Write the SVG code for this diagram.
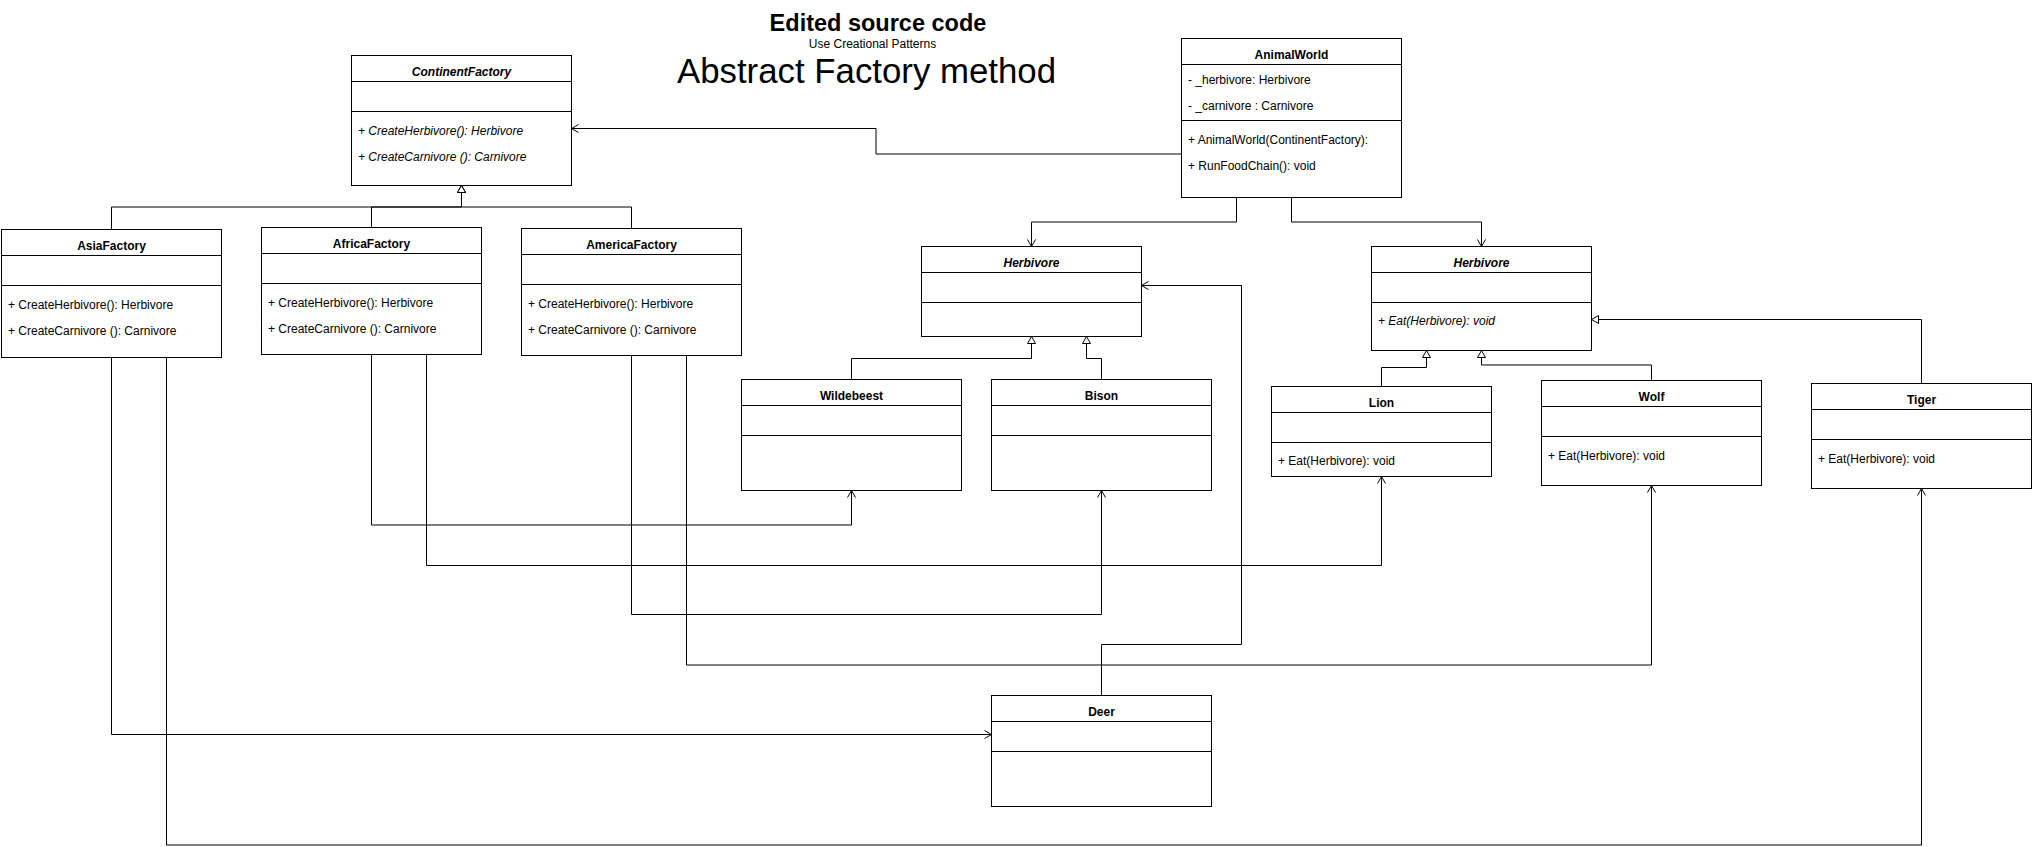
<svg xmlns="http://www.w3.org/2000/svg" width="2033" height="847" viewBox="0 0 2033 847">
<style>
  text { font-family: "Liberation Sans", Arial, Helvetica, sans-serif; font-size: 12px; fill: #000; }
  .box { fill: #fff; stroke: #000; stroke-width: 1; }
  .sep { stroke: #000; stroke-width: 1; }
  .name { font-weight: bold; text-anchor: middle; }
  .abs { font-style: italic; }
  .it { font-style: italic; }
  .conn path { fill: none; stroke: #000; stroke-width: 1; }
  .assoc { marker-end: url(#open); }
  .inh { marker-end: url(#tri); }
</style>
<defs>
  <marker id="open" markerUnits="userSpaceOnUse" markerWidth="10" markerHeight="10" refX="7" refY="4" orient="auto" overflow="visible">
    <path d="M0,0 L7,4 L0,8" fill="none" stroke="#000" stroke-width="1"/>
  </marker>
  <marker id="tri" markerUnits="userSpaceOnUse" markerWidth="10" markerHeight="10" refX="7" refY="4" orient="auto" overflow="visible">
    <path d="M0,0 L7,4 L0,8 Z" fill="#fff" stroke="#000" stroke-width="1"/>
  </marker>
</defs>
<rect width="2033" height="847" fill="#fff"/>

<g id="title">
  <text x="878" y="30.5" text-anchor="middle" style="font-size:23.5px;font-weight:bold">Edited source code</text>
  <text x="872.5" y="48" text-anchor="middle">Use Creational Patterns</text>
  <text x="866.5" y="82.5" text-anchor="middle" style="font-size:34.8px">Abstract Factory method</text>
</g>

<g class="conn" id="connectors">
  <path class="assoc" d="M1181.5,154 H876 V128.5 H571.5"/>
  <path class="assoc" d="M1236.5,197.5 V222 H1031.5 V246.5"/>
  <path class="assoc" d="M1291.5,197.5 V222 H1481.5 V246.5"/>
  <path class="inh" d="M111.5,229.5 V207 H461.5 V185.5"/>
  <path class="inh" d="M371.5,227.5 V207 H461.5 V185.5"/>
  <path class="inh" d="M631.5,228.5 V207 H461.5 V185.5"/>
  <path class="inh" d="M851.5,379.5 V358.5 H1031.5 V336.5"/>
  <path class="inh" d="M1101.5,379.5 V358.5 H1086.5 V336.5"/>
  <path class="inh" d="M1381.5,386.5 V367.5 H1426.5 V350.5"/>
  <path class="inh" d="M1651.5,380.5 V365 H1481.5 V350.5"/>
  <path class="inh" d="M1921.5,383.5 V319.5 H1591.5"/>
  <path class="assoc" d="M111.5,357.5 V734.5 H991.5"/>
  <path class="assoc" d="M166.5,357.5 V845 H1921.5 V488.5"/>
  <path class="assoc" d="M371.5,354.5 V525 H851.5 V490.5"/>
  <path class="assoc" d="M426.5,354.5 V565.5 H1381.5 V476.5"/>
  <path class="assoc" d="M631.5,355.5 V614.5 H1101.5 V490.5"/>
  <path class="assoc" d="M686.5,355.5 V665 H1651.5 V485.5"/>
  <path class="assoc" d="M1101.5,695.5 V644.5 H1241.5 V285.5 H1141.5"/>
</g>

<g id="ContinentFactory">
  <rect class="box" x="351.5" y="55.5" width="220" height="130"/>
  <line class="sep" x1="351.5" y1="81.5" x2="571.5" y2="81.5"/>
  <line class="sep" x1="351.5" y1="111.5" x2="571.5" y2="111.5"/>
  <text class="name abs" x="461.5" y="75.5">ContinentFactory</text>
  <text class="it" x="358" y="134.5">+ CreateHerbivore(): Herbivore</text>
  <text class="it" x="358" y="160.5">+ CreateCarnivore (): Carnivore</text>
</g>

<g id="AnimalWorld">
  <rect class="box" x="1181.5" y="38.5" width="220" height="159"/>
  <line class="sep" x1="1181.5" y1="64.5" x2="1401.5" y2="64.5"/>
  <line class="sep" x1="1181.5" y1="120.5" x2="1401.5" y2="120.5"/>
  <text class="name" x="1291.5" y="58.5">AnimalWorld</text>
  <text x="1188" y="83.5">- _herbivore: Herbivore</text>
  <text x="1188" y="109.5">- _carnivore : Carnivore</text>
  <text x="1188" y="143.5">+ AnimalWorld(ContinentFactory):</text>
  <text x="1188" y="169.5">+ RunFoodChain(): void</text>
</g>

<g id="AsiaFactory">
  <rect class="box" x="1.5" y="229.5" width="220" height="128"/>
  <line class="sep" x1="1.5" y1="255.5" x2="221.5" y2="255.5"/>
  <line class="sep" x1="1.5" y1="285.5" x2="221.5" y2="285.5"/>
  <text class="name" x="111.5" y="249.5">AsiaFactory</text>
  <text x="8" y="308.5">+ CreateHerbivore(): Herbivore</text>
  <text x="8" y="334.5">+ CreateCarnivore (): Carnivore</text>
</g>

<g id="AfricaFactory">
  <rect class="box" x="261.5" y="227.5" width="220" height="127"/>
  <line class="sep" x1="261.5" y1="253.5" x2="481.5" y2="253.5"/>
  <line class="sep" x1="261.5" y1="283.5" x2="481.5" y2="283.5"/>
  <text class="name" x="371.5" y="247.5">AfricaFactory</text>
  <text x="268" y="306.5">+ CreateHerbivore(): Herbivore</text>
  <text x="268" y="332.5">+ CreateCarnivore (): Carnivore</text>
</g>

<g id="AmericaFactory">
  <rect class="box" x="521.5" y="228.5" width="220" height="127"/>
  <line class="sep" x1="521.5" y1="254.5" x2="741.5" y2="254.5"/>
  <line class="sep" x1="521.5" y1="284.5" x2="741.5" y2="284.5"/>
  <text class="name" x="631.5" y="248.5">AmericaFactory</text>
  <text x="528" y="307.5">+ CreateHerbivore(): Herbivore</text>
  <text x="528" y="333.5">+ CreateCarnivore (): Carnivore</text>
</g>

<g id="HerbivoreLeft">
  <rect class="box" x="921.5" y="246.5" width="220" height="90"/>
  <line class="sep" x1="921.5" y1="272.5" x2="1141.5" y2="272.5"/>
  <line class="sep" x1="921.5" y1="302.5" x2="1141.5" y2="302.5"/>
  <text class="name abs" x="1031.5" y="266.5">Herbivore</text>
</g>

<g id="HerbivoreRight">
  <rect class="box" x="1371.5" y="246.5" width="220" height="104"/>
  <line class="sep" x1="1371.5" y1="272.5" x2="1591.5" y2="272.5"/>
  <line class="sep" x1="1371.5" y1="302.5" x2="1591.5" y2="302.5"/>
  <text class="name abs" x="1481.5" y="266.5">Herbivore</text>
  <text class="it" x="1378" y="325">+ Eat(Herbivore): void</text>
</g>

<g id="Wildebeest">
  <rect class="box" x="741.5" y="379.5" width="220" height="111"/>
  <line class="sep" x1="741.5" y1="405.5" x2="961.5" y2="405.5"/>
  <line class="sep" x1="741.5" y1="435.5" x2="961.5" y2="435.5"/>
  <text class="name" x="851.5" y="399.5">Wildebeest</text>
</g>

<g id="Bison">
  <rect class="box" x="991.5" y="379.5" width="220" height="111"/>
  <line class="sep" x1="991.5" y1="405.5" x2="1211.5" y2="405.5"/>
  <line class="sep" x1="991.5" y1="435.5" x2="1211.5" y2="435.5"/>
  <text class="name" x="1101.5" y="399.5">Bison</text>
</g>

<g id="Lion">
  <rect class="box" x="1271.5" y="386.5" width="220" height="90"/>
  <line class="sep" x1="1271.5" y1="412.5" x2="1491.5" y2="412.5"/>
  <line class="sep" x1="1271.5" y1="442.5" x2="1491.5" y2="442.5"/>
  <text class="name" x="1381.5" y="406.5">Lion</text>
  <text x="1278" y="465">+ Eat(Herbivore): void</text>
</g>

<g id="Wolf">
  <rect class="box" x="1541.5" y="380.5" width="220" height="105"/>
  <line class="sep" x1="1541.5" y1="406.5" x2="1761.5" y2="406.5"/>
  <line class="sep" x1="1541.5" y1="436.5" x2="1761.5" y2="436.5"/>
  <text class="name" x="1651.5" y="400.5">Wolf</text>
  <text x="1548" y="459.5">+ Eat(Herbivore): void</text>
</g>

<g id="Tiger">
  <rect class="box" x="1811.5" y="383.5" width="220" height="105"/>
  <line class="sep" x1="1811.5" y1="409.5" x2="2031.5" y2="409.5"/>
  <line class="sep" x1="1811.5" y1="439.5" x2="2031.5" y2="439.5"/>
  <text class="name" x="1921.5" y="403.5">Tiger</text>
  <text x="1818" y="462.5">+ Eat(Herbivore): void</text>
</g>

<g id="Deer">
  <rect class="box" x="991.5" y="695.5" width="220" height="111"/>
  <line class="sep" x1="991.5" y1="721.5" x2="1211.5" y2="721.5"/>
  <line class="sep" x1="991.5" y1="751.5" x2="1211.5" y2="751.5"/>
  <text class="name" x="1101.5" y="715.5">Deer</text>
</g>
</svg>
